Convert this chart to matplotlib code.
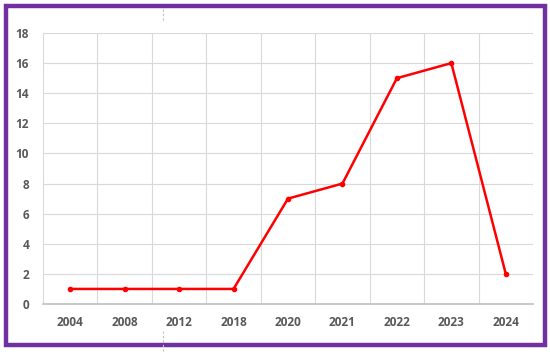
import numpy as np
import matplotlib.pyplot as plt
from matplotlib.patches import Rectangle
from matplotlib.lines import Line2D

years = ['2004', '2008', '2012', '2018', '2020', '2021', '2022', '2023', '2024']
counts = [1, 1, 1, 1, 7, 8, 15, 16, 2]

W, H = 550, 352
fig = plt.figure(figsize=(W / 100, H / 100), dpi=100)
ax = fig.add_axes([43 / W, 1 - 304 / H, (533 - 43) / W, (304 - 33) / H])

x = np.arange(len(years))
ax.plot(x, counts, color='#ff0000', lw=1.8, marker='o', ms=3, zorder=3)

ax.set_xlim(-0.5, len(years) - 0.5)
ax.set_ylim(0, 18)
ax.set_yticks(range(0, 19, 2))
ax.set_xticks(x)
ax.set_xticklabels(years)

# category boundary gridlines like excel
for b in np.arange(0.5, len(years) - 0.5, 1):
    ax.axvline(b, color='#d9d9d9', lw=0.8, zorder=0)
ax.grid(axis='y', color='#d9d9d9', lw=0.8, zorder=0)
ax.axvline(-0.5, color='#d9d9d9', lw=0.8, zorder=0)

for s in ['top', 'right', 'left']:
    ax.spines[s].set_visible(False)
ax.spines['bottom'].set_color('#bfbfbf')
ax.spines['bottom'].set_linewidth(1.2)

ax.tick_params(length=0, labelsize=8.5, labelcolor='#595959')
ax.tick_params(axis='y', pad=10)
ax.tick_params(axis='x', pad=9)
for lab in ax.get_xticklabels() + ax.get_yticklabels():
    lab.set_fontweight('bold')
    lab.set_family('Open Sans')

# purple frame
fig.patches.append(Rectangle((6 / W, 1 - 344.5 / H), (544.5 - 6) / W, (344.5 - 6) / H,
                             transform=fig.transFigure, fill=False,
                             edgecolor='#7030a0', lw=3.2))
# little dashed marks at the middle
fig.lines.append(Line2D([163 / W, 163 / W], [1 - 9 / H, 1 - 21 / H], transform=fig.transFigure,
                        color='#bfbfbf', lw=0.8, ls=(0, (2, 2))))
fig.lines.append(Line2D([163 / W, 163 / W], [1 - 331 / H, 0], transform=fig.transFigure,
                        color='#bfbfbf', lw=0.8, ls=(0, (2, 2))))

fig.savefig('out.png', dpi=100)
